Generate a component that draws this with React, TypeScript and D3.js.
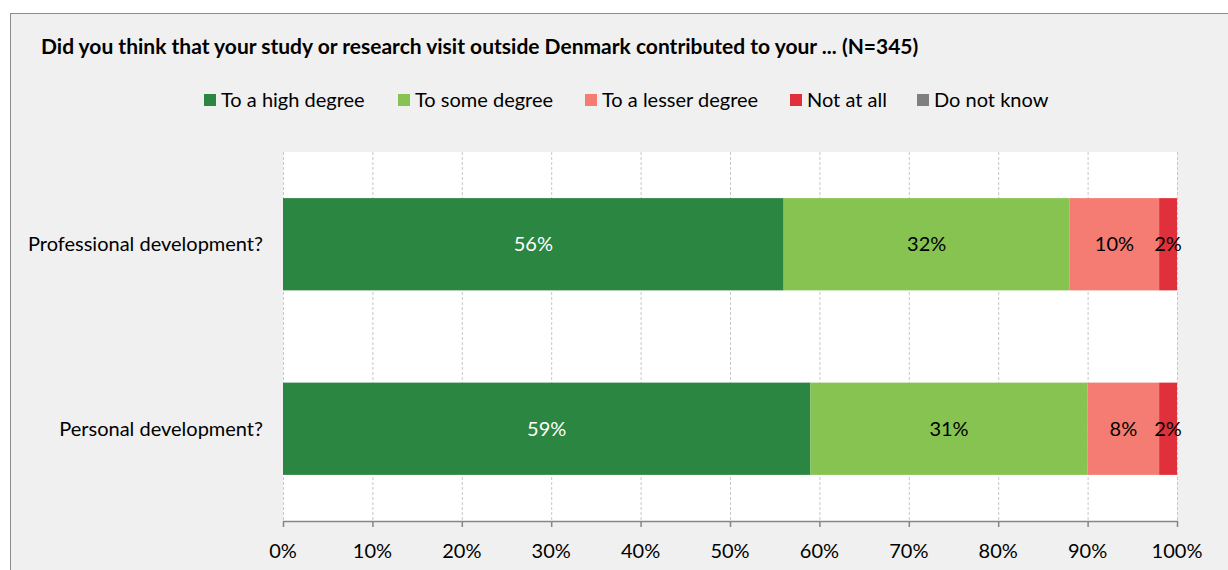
import React, { useEffect } from 'react';
import * as d3 from 'd3';

// chart data
const categories = ['Professional development?', 'Personal development?'];
const seriesNames = ['To a high degree', 'To some degree', 'To a lesser degree', 'Not at all', 'Do not know'];
const highDegree = [56, 59];
const someDegree = [32, 31];
const lesserDegree = [10, 8];
const notAtAll = [2, 2];
const doNotKnow = [0, 0];
const tickValues = [0, 10, 20, 30, 40, 50, 60, 70, 80, 90, 100];

const colors = ['#2a8641', '#86c351', '#f47c72', '#e0303c', '#7f7f80'];
const labelColors = ['#ffffff', '#000000', '#000000', '#000000', '#000000'];
const FONT = "Lato, 'Open Sans', sans-serif";
const FS = 20;

const W = 1228;
const H = 570;
const margin = { left: 283, right: 51, top: 152, bottom: 49 };

export default function App() {
  useEffect(() => {
    document.body.style.margin = '0';
  }, []);

  const values = [highDegree, someDegree, lesserDegree, notAtAll, doNotKnow];
  const rows = categories.map((c, i) => {
    const r: any = { cat: c };
    seriesNames.forEach((s, j) => (r[s] = values[j][i]));
    return r;
  });
  const stacked = d3.stack().keys(seriesNames)(rows);

  const x = d3.scaleLinear().domain([0, 100]).range([margin.left, W - margin.right]);
  const y = d3
    .scaleBand()
    .domain(categories)
    .range([margin.top, H - margin.bottom])
    .paddingInner(0.5)
    .paddingOuter(0.25);

  const axisY = H - margin.bottom;

  // legend positions (square x)
  const legendX = [204, 398, 585, 790, 917];

  return (
    <svg width={W} height={H} style={{ display: 'block' }} fontFamily={FONT}>
      <rect x={0} y={0} width={W} height={H} fill="#ffffff" />
      <rect x={10.5} y={13.5} width={W - 10} height={H} fill="#f0f0f0" stroke="#8c8c8c" strokeWidth={1} />
      <text x={41} y={54} fontSize={21} fontWeight="bold" fill="#000">
        Did you think that your study or research visit outside Denmark contributed to your ... (N=345)
      </text>
      {/* legend */}
      {seriesNames.map((s, i) => (
        <g key={s}>
          <rect x={legendX[i]} y={94} width={12} height={12} fill={colors[i]} />
          <text x={legendX[i] + 17} y={107} fontSize={FS} fill="#000">
            {s}
          </text>
        </g>
      ))}
      {/* plot area */}
      <rect x={margin.left} y={margin.top} width={x(100) - margin.left} height={axisY - margin.top} fill="#ffffff" />
      {tickValues.map((t) => (
        <line
          key={'g' + t}
          x1={x(t) + 0.5}
          x2={x(t) + 0.5}
          y1={margin.top}
          y2={axisY}
          stroke="#c8c8c8"
          strokeDasharray="3,2"
        />
      ))}
      {stacked.map((layer, j) =>
        layer.map((d, i) => {
          const w = x(d[1]) - x(d[0]);
          if (w <= 0) return null;
          return (
            <g key={j + '-' + i}>
              <rect x={x(d[0])} y={y(categories[i])} width={w} height={y.bandwidth()} fill={colors[j]} />
              <text
                x={(x(d[0]) + x(d[1])) / 2}
                y={(y(categories[i]) as number) + y.bandwidth() / 2}
                dy="0.35em"
                textAnchor="middle"
                fontSize={FS}
                fill={labelColors[j]}
              >
                {d[1] - d[0]}%
              </text>
            </g>
          );
        })
      )}
      {/* category labels */}
      {categories.map((c) => (
        <text
          key={c}
          x={263}
          y={(y(c) as number) + y.bandwidth() / 2}
          dy="0.35em"
          textAnchor="end"
          fontSize={FS}
          fill="#000"
        >
          {c}
        </text>
      ))}
      {/* x axis */}
      <line x1={x(0)} x2={x(100) + 1} y1={axisY + 0.5} y2={axisY + 0.5} stroke="#868686" strokeWidth={1.5} />
      {tickValues.map((t) => (
        <g key={'t' + t}>
          <line x1={x(t) + 0.5} x2={x(t) + 0.5} y1={axisY} y2={axisY + 6} stroke="#868686" strokeWidth={1.5} />
          <text x={x(t)} y={558} textAnchor="middle" fontSize={FS} fill="#000">
            {t}%
          </text>
        </g>
      ))}
    </svg>
  );
}
